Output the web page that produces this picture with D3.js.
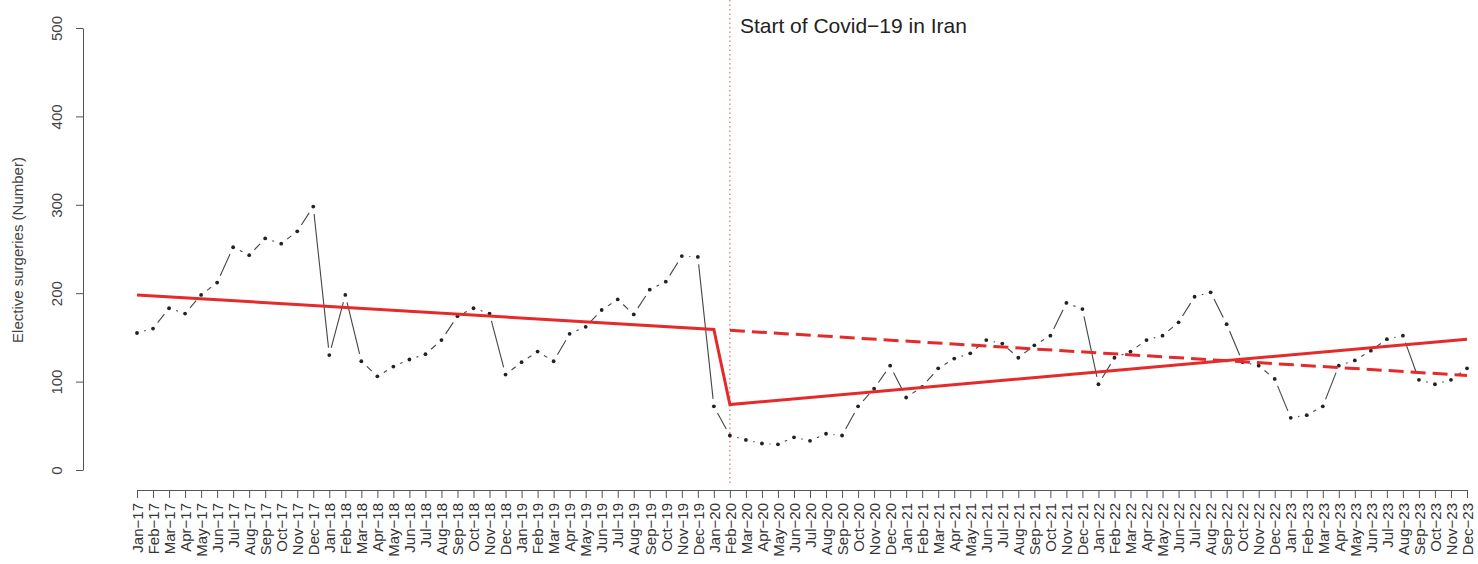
<!DOCTYPE html>
<html>
<head>
<meta charset="utf-8">
<script src="https://cdn.jsdelivr.net/npm/d3@7"></script>
<style>
  body { margin: 0; background: #fff; }
  svg { display: block; font-family: "Liberation Sans", Arial, sans-serif; }
</style>
</head>
<body>
<svg id="chart"></svg>
<script>
// month labels
const monthNames = ["Jan", "Feb", "Mar", "Apr", "May", "Jun", "Jul", "Aug", "Sep", "Oct", "Nov", "Dec"];
const years = ["17", "18", "19", "20", "21", "22", "23"];
const months = years.flatMap(y => monthNames.map(m => m + "\u2212" + y));

// elective surgeries per month, Jan-17 .. Dec-23
const surgeries = [
  155, 160, 183, 177, 198, 212, 252, 243, 262, 256, 270, 298,
  130, 198, 123, 106, 117, 125, 131, 147, 174, 183, 177, 108,
  122, 134, 123, 154, 162, 181, 193, 176, 204, 213, 242, 241,
   72,  39,  34,  30,  29,  37,  33,  41,  39,  72,  92, 118,
   82,  94, 115, 126, 132, 147, 143, 127, 141, 152, 189, 182,
   97, 127, 134, 147, 152, 167, 196, 201, 165, 122, 118, 103,
   59,  62,  72, 118, 124, 135, 148, 152, 102,  97, 102, 115
];

// fitted segmented regression (month label, value)
const fitted = [["Jan\u221217", 198], ["Jan\u221220", 159], ["Feb\u221220", 74], ["Dec\u221223", 148]];
const counterfactual = [["Feb\u221220", 158], ["Dec\u221223", 107]];
const interventionMonth = "Feb\u221220";
const yTicks = [0, 100, 200, 300, 400, 500];

const width = 1478, height = 564;
const svg = d3.select("#chart").attr("width", width).attr("height", height);

const x_scale = d3.scalePoint().domain(months).range([137, 1467]);
const y_scale = d3.scaleLinear().domain([0, 500]).range([470, 28]);
const axisY = 490;

// y axis
const gY = svg.append("g").attr("transform", "translate(83,0)")
  .call(d3.axisLeft(y_scale).tickValues(yTicks).tickSize(7).tickSizeOuter(0));
gY.select(".domain").attr("stroke", "#555");
gY.selectAll(".tick line").attr("stroke", "#555");
gY.selectAll("text")
  .attr("transform", "rotate(-90)")
  .attr("x", 0).attr("y", -26).attr("dy", "0.35em")
  .attr("text-anchor", "middle")
  .attr("fill", "#444")
  .style("font-size", "15px");

// y title
svg.append("text")
  .attr("transform", "translate(18,250) rotate(-90)")
  .attr("text-anchor", "middle").attr("dy", "0.35em")
  .attr("fill", "#444").style("font-size", "15px")
  .text("Elective surgeries (Number)");

// x axis
const gX = svg.append("g").attr("transform", `translate(0,${axisY})`)
  .call(d3.axisBottom(x_scale).tickSize(8).tickSizeOuter(0));
gX.select(".domain").attr("stroke", "#555");
gX.selectAll(".tick line").attr("stroke", "#555");
gX.selectAll("text")
  .attr("transform", "rotate(-90)")
  .attr("x", -13).attr("y", 0).attr("dy", "0.35em")
  .attr("text-anchor", "end")
  .attr("fill", "#333")
  .style("font-size", "15px");

// intervention line
svg.append("line")
  .attr("x1", x_scale(interventionMonth)).attr("x2", x_scale(interventionMonth))
  .attr("y1", 0).attr("y2", 486)
  .attr("stroke", "#e05050").attr("stroke-width", 1)
  .attr("stroke-dasharray", "1.5,3");

svg.append("text")
  .attr("x", x_scale(interventionMonth) + 10).attr("y", 33)
  .attr("fill", "#222").style("font-size", "21px")
  .text("Start of Covid\u221219 in Iran");

// observed series: points with gapped connecting segments (R type = "b")
const pts = surgeries.map((v, i) => [x_scale(months[i]), y_scale(v)]);
const gap = 7.5;
const segs = [];
for (let i = 0; i < pts.length - 1; i++) {
  const [x0, y0] = pts[i], [x1, y1] = pts[i + 1];
  const len = Math.hypot(x1 - x0, y1 - y0);
  if (len > 2 * gap + 0.5) {
    const ux = (x1 - x0) / len, uy = (y1 - y0) / len;
    segs.push([x0 + ux * gap, y0 + uy * gap, x1 - ux * gap, y1 - uy * gap]);
  }
}
svg.append("g").selectAll("line").data(segs).join("line")
  .attr("x1", d => d[0]).attr("y1", d => d[1])
  .attr("x2", d => d[2]).attr("y2", d => d[3])
  .attr("stroke", "#444").attr("stroke-width", 1.1);

svg.append("g").selectAll("circle").data(pts).join("circle")
  .attr("cx", d => d[0]).attr("cy", d => d[1])
  .attr("r", 1.9).attr("fill", "#222");

// trend lines
const line = d3.line().x(d => x_scale(d[0])).y(d => y_scale(d[1]));
svg.append("path").datum(counterfactual)
  .attr("d", line).attr("fill", "none")
  .attr("stroke", "#e42a2a").attr("stroke-width", 3)
  .attr("stroke-dasharray", "15,7");
svg.append("path").datum(fitted)
  .attr("d", line).attr("fill", "none")
  .attr("stroke", "#e42a2a").attr("stroke-width", 3);
</script>
</body>
</html>
